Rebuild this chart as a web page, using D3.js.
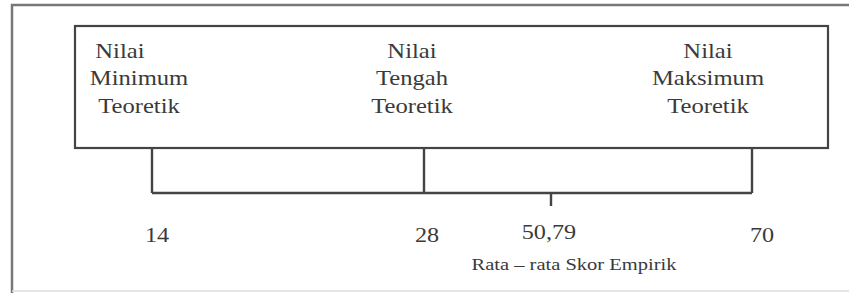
<!DOCTYPE html>
<html>
<head>
<meta charset="utf-8">
<script src="https://cdn.jsdelivr.net/npm/d3@7"></script>
<style>
  html, body { margin: 0; padding: 0; background: #fff; }
  svg { display: block; }
  svg text { font-family: "Liberation Serif", Tinos, "Times New Roman", serif !important; }
</style>
</head>
<body>
<script>
// values
const theoryValues = [14, 28, 70]
const theoryNames = [
  ['Nilai', 'Minimum', 'Teoretik'],
  ['Nilai', 'Tengah', 'Teoretik'],
  ['Nilai', 'Maksimum', 'Teoretik']
]
const empiricalMean = 50.79
const empiricalName = 'Rata \u2013 rata Skor Empirik'
const tickLabels = ['14', '28', '50,79', '70']

const w = 849
const h = 293
const fontSerif = '"Liberation Serif", Tinos, "Times New Roman", serif'

// the diagram is schematic, so the scale is piecewise (not to true proportion)
const x = d3.scaleLinear()
  .domain([14, 28, empiricalMean, 70])
  .range([152, 424, 551, 752])

const svg = d3.select('body')
  .append('svg')
  .attr('width', w)
  .attr('height', h)
  .style('font-family', fontSerif)

// outer frame (cut off on the right)
svg.append('path')
  .attr('d', `M${w + 5},5 H12 V${h}`)
  .attr('fill', 'none')
  .attr('stroke', '#777')
  .attr('stroke-width', 2.5)
svg.append('line')
  .attr('x1', 12).attr('x2', w)
  .attr('y1', 291).attr('y2', 291)
  .attr('stroke', '#ddd')
  .attr('stroke-width', 1.5)

// big box holding the names
const boxTop = 26
const boxBottom = 148
svg.append('rect')
  .attr('x', 75)
  .attr('y', boxTop)
  .attr('width', 828 - 75)
  .attr('height', boxBottom - boxTop)
  .attr('fill', 'none')
  .attr('stroke', '#444')
  .attr('stroke-width', 2.2)

const nameShift = [-13, -12, -44]
const names = svg.append('g').attr('class', 'names')
theoryValues.forEach((v, i) => {
  const cx = x(v) + nameShift[i]
  names.selectAll(null)
    .data(theoryNames[i])
    .enter()
    .append('text')
    .attr('x', (d, j) => cx - (i === 0 && j === 0 ? 17 : 0))
    .attr('y', (d, j) => 58 + j * 27.5)
    .attr('text-anchor', 'middle')
    .attr('fill', '#3a3a3a')
    .attr('font-family', fontSerif)
    .style('font-family', fontSerif)
    .style('font-size', '22px')
    .attr('transform-origin', `${cx} 0`)
    .attr('transform', 'scale(1.12,1)')
    .text(d => d)
})

// bracket below the box
const bracketY = 193
const bracket = svg.append('g').attr('class', 'bracket')
  .attr('stroke', '#444')
  .attr('stroke-width', 2.4)
  .attr('fill', 'none')
bracket.selectAll('line.leg')
  .data(theoryValues)
  .enter()
  .append('line')
  .attr('class', 'leg')
  .attr('x1', d => x(d)).attr('x2', d => x(d))
  .attr('y1', boxBottom).attr('y2', bracketY)
bracket.append('line')
  .attr('x1', x(theoryValues[0]))
  .attr('x2', x(theoryValues[theoryValues.length - 1]))
  .attr('y1', bracketY).attr('y2', bracketY)
bracket.append('line')
  .attr('x1', x(empiricalMean)).attr('x2', x(empiricalMean))
  .attr('y1', bracketY).attr('y2', bracketY + 13)

// number labels
const tickValues = [14, 28, empiricalMean, 70]
const tickShift = [5, 3, -2, 10]
svg.append('g').attr('class', 'ticks')
  .selectAll('text')
  .data(tickValues)
  .enter()
  .append('text')
  .attr('x', (d, i) => x(d) + tickShift[i])
  .attr('y', d => d === empiricalMean ? 239 : 242)
  .attr('text-anchor', 'middle')
  .attr('fill', '#3a3a3a')
  .attr('font-family', fontSerif)
  .style('font-family', fontSerif)
  .style('font-size', '22px')
  .attr('transform-origin', (d, i) => `${x(d) + tickShift[i]} 0`)
  .attr('transform', 'scale(1.1,1)')
  .text((d, i) => tickLabels[i])

svg.append('text')
  .attr('x', 574)
  .attr('y', 270)
  .attr('text-anchor', 'middle')
  .attr('fill', '#3a3a3a')
  .attr('font-family', fontSerif)
  .style('font-family', fontSerif)
  .style('font-size', '17px')
  .attr('textLength', 205)
  .attr('lengthAdjust', 'spacingAndGlyphs')
  .text(empiricalName)
</script>
</body>
</html>
